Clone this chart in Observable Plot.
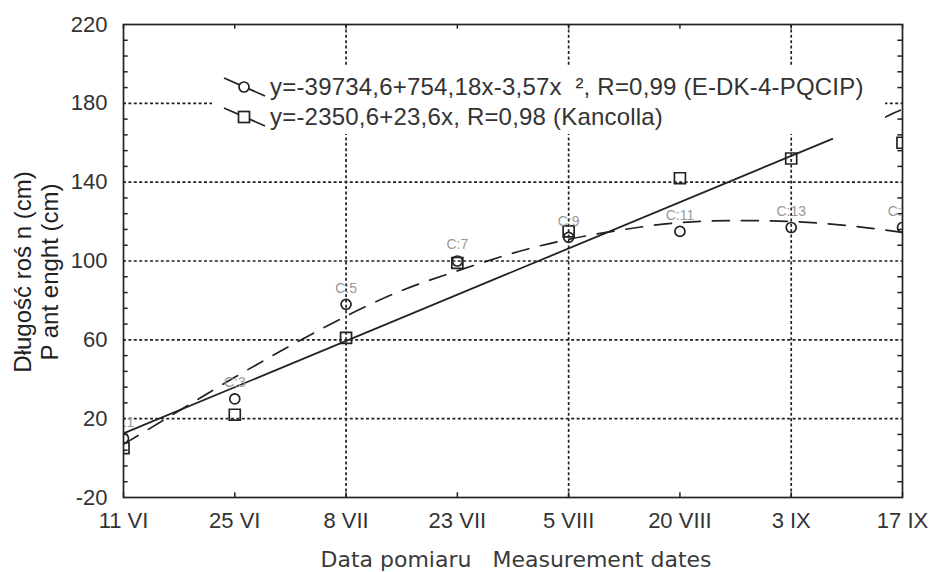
<!DOCTYPE html>
<html><head><meta charset="utf-8">
<script src="https://cdn.jsdelivr.net/npm/d3@7"></script>
<script src="https://cdn.jsdelivr.net/npm/@observablehq/plot@0.6"></script>
<style>
body{margin:0;background:#fff;}
#wrap{position:relative;width:931px;height:572px;overflow:hidden;background:#fff;}
#legend{position:absolute;left:0;top:0;pointer-events:none;}
</style></head><body><div id="wrap"></div>
<script>
// ---- data ----
const dates = ["11 VI", "25 VI", "8 VII", "23 VII", "5 VIII", "20 VIII", "3 IX", "17 IX"];
const dateIndex = [0, 1, 2, 3, 4, 5, 6, 7];
const edkValues = [10, 30, 78, 100, 112, 115, 117, 117];
const kancollaValues = [5, 22, 61, 99, 115, 142, 152, 160];
const pointLabels = ["C:1", "C:3", "C:5", "C:7", "C:9", "C:11", "C:13", "C:15"];
// fitted curves
const edkFitX = [0, 0.5, 1, 1.5, 2, 2.5, 3, 3.5, 4, 4.5, 5, 5.5, 6, 6.5, 7];
const edkFitY = [7, 24, 41, 57, 72, 85, 95, 104, 111, 116, 119.5, 120.5, 120, 118, 114.5];
const kancollaFitX = [0, 6.37];
const kancollaFitY = [12.5, 162];
const strayX = [6.78, 6.88, 6.98];
const strayY = [171, 174, 176.5];
// axes
const yTicks = [-20, 20, 60, 100, 140, 180, 220];
const yGrid = [20, 60, 100, 140, 180];
const xGrid = [2, 4, 6];
const yMinor = [-12, -4, 4, 12, 28, 36, 44, 52, 68, 76, 84, 92, 108, 116, 124, 132, 148, 156, 164, 172, 188, 196, 204, 212];
const yTitle = "Długość roś n (cm)\nP ant enght (cm)";
const xTitle = "Data pomiaru\u00A0\u00A0\u00A0Measurement dates";
const legendLabels = ["y=-39734,6+754,18x-3,57x\u00A0\u00A0\u00B2, R=0,99 (E-DK-4-PQCIP)", "y=-2350,6+23,6x, R=0,98 (Kancolla)"];

const points = dateIndex.map((i) => ({i, edk: edkValues[i], kan: kancollaValues[i], label: pointLabels[i]}));
const edkFit = edkFitX.map((x, k) => ({x, y: edkFitY[k]}));
const kanFit = kancollaFitX.map((x, k) => ({x, y: kancollaFitY[k]}));
const stray = strayX.map((x, k) => ({x, y: strayY[k]}));

const ink = "#222";
const dotted = {stroke: ink, strokeWidth: 1.7, strokeDasharray: "3,2.4"};

const chart = Plot.plot({
  width: 931, height: 572,
  marginLeft: 123, marginRight: 29, marginTop: 24, marginBottom: 75,
  x: {domain: [0, 7]},
  y: {domain: [-20, 220]},
  style: {fontFamily: "'Liberation Sans', Arial, sans-serif", background: "white", color: "#333"},
  marks: [
    Plot.ruleY(yGrid, dotted),
    Plot.ruleX(xGrid, dotted),
    Plot.ruleY(yMinor, {x1: 0, x2: 0.042, stroke: ink, strokeWidth: 1.5}),
    Plot.ruleY(yMinor, {x1: 6.958, x2: 7, stroke: ink, strokeWidth: 1.5}),
    Plot.ruleX(dateIndex, {y1: -20, y2: -17.6, stroke: ink, strokeWidth: 1.5}),
    Plot.ruleX(dateIndex, {y1: 220, y2: 217.6, stroke: ink, strokeWidth: 1.5}),
    Plot.line(edkFit, {x: "x", y: "y", curve: "natural", stroke: ink, strokeWidth: 1.7, strokeDasharray: "17,12", clip: true}),
    Plot.line(kanFit, {x: "x", y: "y", stroke: ink, strokeWidth: 1.8, clip: true}),
    Plot.line(stray, {x: "x", y: "y", curve: "natural", stroke: ink, strokeWidth: 1.7, clip: true}),
    Plot.dot(points, {x: "i", y: "kan", symbol: "square", r: 6.2, stroke: ink, strokeWidth: 1.7, fill: "none", clip: true}),
    Plot.dot(points, {x: "i", y: "edk", symbol: "circle", r: 5, stroke: ink, strokeWidth: 1.7, fill: "none", clip: true}),
    Plot.text(points, {x: "i", y: "edk", text: "label", dy: -16, fontSize: 14, fill: "#999", clip: true}),
    Plot.frame({stroke: ink, strokeWidth: 1.7}),
    Plot.axisY(yTicks, {anchor: "left", tickSize: 0, tickPadding: 16, fontSize: 22, fill: "#333", letterSpacing: 2, tickFormat: (d) => String(d), label: null}),
    Plot.axisX(dateIndex, {anchor: "bottom", tickSize: 0, tickPadding: 15, fontSize: 22, fill: "#333", tickFormat: (i) => dates[i], label: null}),
    Plot.text([yTitle], {frameAnchor: "left", dx: -87.5, dy: 11, rotate: -90, textAnchor: "middle", lineAnchor: "middle", lineHeight: 1.12, fontSize: 24, fill: "#222"}),
    Plot.text([xTitle], {frameAnchor: "bottom", dx: 3, dy: 69, fontFamily: "'DejaVu Sans', sans-serif", fontSize: 22, letterSpacing: 2.4, fill: "#3a3a3a"})
  ]
});
const wrap = document.getElementById("wrap");
wrap.appendChild(chart);

// ---- legend overlay ----
const lg = d3.select(wrap).append("svg").attr("id", "legend").attr("width", 931).attr("height", 572);
lg.append("rect").attr("x", 212).attr("y", 66).attr("width", 673).attr("height", 68).attr("fill", "white");
const rows = [{cy: 87, sym: "circle"}, {cy: 117, sym: "square"}];
rows.forEach((r, k) => {
  const g = lg.append("g").attr("transform", `translate(244,${r.cy})`);
  g.append("line").attr("x1", -20).attr("y1", -9).attr("x2", 21).attr("y2", 9).attr("stroke", ink).attr("stroke-width", 1.7);
  if (r.sym === "circle") g.append("circle").attr("r", 5).attr("fill", "white").attr("stroke", ink).attr("stroke-width", 1.7);
  else g.append("rect").attr("x", -5.5).attr("y", -5.5).attr("width", 11).attr("height", 11).attr("fill", "white").attr("stroke", ink).attr("stroke-width", 1.7);
  lg.append("text").attr("x", 270).attr("y", r.cy).attr("dy", "0.35em")
    .attr("font-family", "'Liberation Sans', Arial, sans-serif").attr("font-size", 24).attr("letter-spacing", 0.2).attr("fill", "#333")
    .text(legendLabels[k]);
});
</script></body></html>
